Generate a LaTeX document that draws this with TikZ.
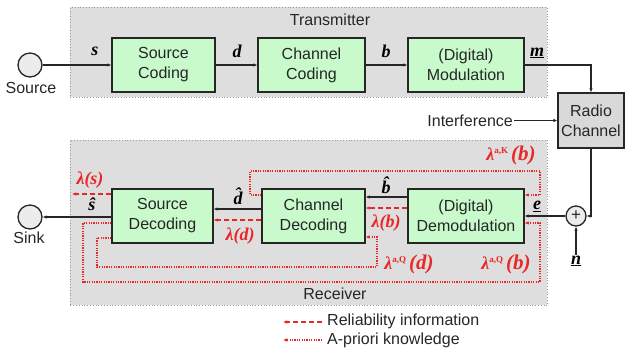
\documentclass[tikz,border=0pt]{standalone}
\usepackage{fontspec}
\setmainfont{Liberation Sans}
\newfontfamily\lblfont{Liberation Serif}
\usetikzlibrary{arrows.meta}
\definecolor{boxgreen}{RGB}{200,250,204}
\definecolor{panelgray}{RGB}{222,222,222}
\definecolor{lred}{RGB}{232,40,40}
\begin{document}
\begin{tikzpicture}[x=1pt,y=-1pt,
  every node/.style={font=\fontsize{16}{20}\selectfont, text=black!85},
  block/.style={draw=black!85, line width=1.3pt, fill=boxgreen, align=center, inner sep=0pt, minimum height=54pt},
  panel/.style={draw=gray!80, dotted, fill=panelgray, line width=0.8pt, inner sep=0pt},
  term/.style={circle, draw=black!85, line width=1.3pt, fill=gray!15, minimum size=24pt, inner sep=0pt},
  sig/.style={draw=black!85, line width=1.1pt, -{Latex[length=4pt,width=3.5pt]}},
  rel/.style={draw=lred, dash pattern=on 5pt off 3pt, line width=1.5pt, -{Latex[length=4pt,width=3.5pt]}},
  apri/.style={draw=lred, dash pattern=on 1.2pt off 1.2pt, line width=1.2pt, -{Latex[length=4pt,width=3.5pt]}},
  lbl/.style={font=\lblfont\bfseries\itshape\fontsize{18}{18}\selectfont, text=black, inner sep=1pt},
  rlbl/.style={lbl, text=lred},
  leg/.style={font=\fontsize{16}{18}\selectfont, anchor=west, inner sep=1pt}
]
\useasboundingbox (0,0) rectangle (626,354);

% panels
\node[panel, minimum width=477pt, minimum height=90pt, anchor=north west] (tx) at (70,7) {};
\node[panel, minimum width=477pt, minimum height=165pt, anchor=north west] (rx) at (70,140) {};
\node (txt) at (330,20) {Transmitter};
\node (rxt) at (335,294) {Receiver};

% transmitter
\node[term] (src) at (30,65) {};
\node (srct) at (31,88) {Source};
\node[block, minimum width=103pt] (sc) at (163.5,65) {Source\\Coding};
\node[block, minimum width=107pt] (cc) at (311.5,65) {Channel\\Coding};
\node[block, minimum width=116pt] (mod) at (466,65) {(Digital)\\Modulation};
\node[draw=black!85, line width=1.3pt, fill=gray!30, align=center, inner sep=0pt, minimum width=66pt, minimum height=55pt] (rc) at (591,120.5) {Radio\\Channel};
\node[anchor=east, inner sep=1pt] (intf) at (514,120.5) {Interference};

\draw[sig] (src.east) -- (sc.west);
\draw[sig] (sc.east) -- (cc.west);
\draw[sig] (cc.east) -- (mod.west);
\draw[sig] (mod.east) -| (rc.north);
\draw[sig] (intf.east) -- (rc.west);

\node[lbl] (ls) at (95,51) {s};
\node[lbl] (ld) at (237,51) {d};
\node[lbl] (lb) at (386,51) {b};
\node[lbl] (lm) at (537,53) {\underline{m}};

% receiver
\node[term] (snk) at (30,217) {};
\node (snkt) at (29,238) {Sink};
\node[block, minimum width=101pt] (sd) at (162.5,216) {Source\\Decoding};
\node[block, minimum width=103pt] (cd) at (313.5,216) {Channel\\Decoding};
\node[block, minimum width=116pt] (dm) at (466,216) {(Digital)\\Demodulation};
\node[circle, draw=black!85, line width=1.3pt, fill=gray!15, minimum size=20pt, inner sep=0pt, font=\fontsize{17}{17}\selectfont] (add) at (576,216) {+};
\node[lbl] (ln) at (576,261) {\underline{n}};

\draw[sig] (rc.south) |- (add.east);
\draw[sig] (ln.north) -- (add.south);
\draw[sig] (add.west) -- (dm.east);

% y levels
\coordinate (yb) at (0,197);
\coordinate (ylb) at (0,208);
\coordinate (ydh) at (0,209);
\coordinate (yld) at (0,220);
\coordinate (ysh) at (0,217);
\coordinate (lsend) at (72,194);
\coordinate (ak0) at (250,195);
\coordinate (ak1) at (250,171);
\coordinate (ak2) at (540,171);
\coordinate (ak3) at (540,195);
\coordinate (ob0) at (83,223);
\coordinate (ob1) at (83,282);
\coordinate (ob2) at (540,282);
\coordinate (ob3) at (540,223);
\coordinate (id0) at (97,238);
\coordinate (id1) at (97,267);
\coordinate (id2) at (377,267);
\coordinate (id3) at (377,237);

\draw[sig] (dm.west |- yb) -- (cd.east |- yb);
\draw[rel] (dm.west |- ylb) -- (cd.east |- ylb);
\draw[sig] (cd.west |- ydh) -- (sd.east |- ydh);
\draw[rel] (cd.west |- yld) -- (sd.east |- yld);
\draw[sig] (sd.west |- ysh) -- (snk.east);
\draw[rel] (sd.west |- lsend) -- (lsend);

\draw[apri] (cd.west |- ak0) -- (ak0) -- (ak1) -- (ak2) -- (ak3) -- (dm.east |- ak3);
\draw[apri] (sd.west |- ob0) -- (ob0) -- (ob1) -- (ob2) -- (ob3) -- (dm.east |- ob3);
\draw[apri] (sd.west |- id0) -- (id0) -- (id1) -- (id2) -- (id3) -- (cd.east |- id3);

\node[lbl] (lbh) at (386,185) {\^{b}};
\node[rlbl] (llb) at (386,223) {λ(b)};
\node[lbl] (ldh) at (238,196) {\^{d}};
\node[rlbl] (lld) at (240,236) {λ(d)};
\node[lbl] (lsh) at (92,204) {\^{s}};
\node[rlbl] (lls) at (90,180) {λ(s)};
\node[lbl] (le) at (537,206) {\underline{e}};
\node[rlbl] (lak) at (511,155) {λ\raisebox{7pt}{\fontsize{9}{9}\selectfont\upshape a,K}\,{\fontsize{21}{21}\selectfont(b)}};
\node[rlbl] (laqd) at (409,264) {λ\raisebox{7pt}{\fontsize{9}{9}\selectfont\upshape a,Q}\,{\fontsize{21}{21}\selectfont(d)}};
\node[rlbl] (laqb) at (506,264) {λ\raisebox{7pt}{\fontsize{9}{9}\selectfont\upshape a,Q}\,{\fontsize{21}{21}\selectfont(b)}};

% legend
\coordinate (lg1a) at (322,322);
\coordinate (lg1b) at (283,322);
\coordinate (lg2a) at (322,340);
\coordinate (lg2b) at (283,340);
\draw[rel] (lg1a) -- (lg1b);
\draw[apri] (lg2a) -- (lg2b);
\node[leg] (leg1) at (326,321) {Reliability information};
\node[leg] (leg2) at (326,340) {A-priori knowledge};
\end{tikzpicture}
\end{document}
